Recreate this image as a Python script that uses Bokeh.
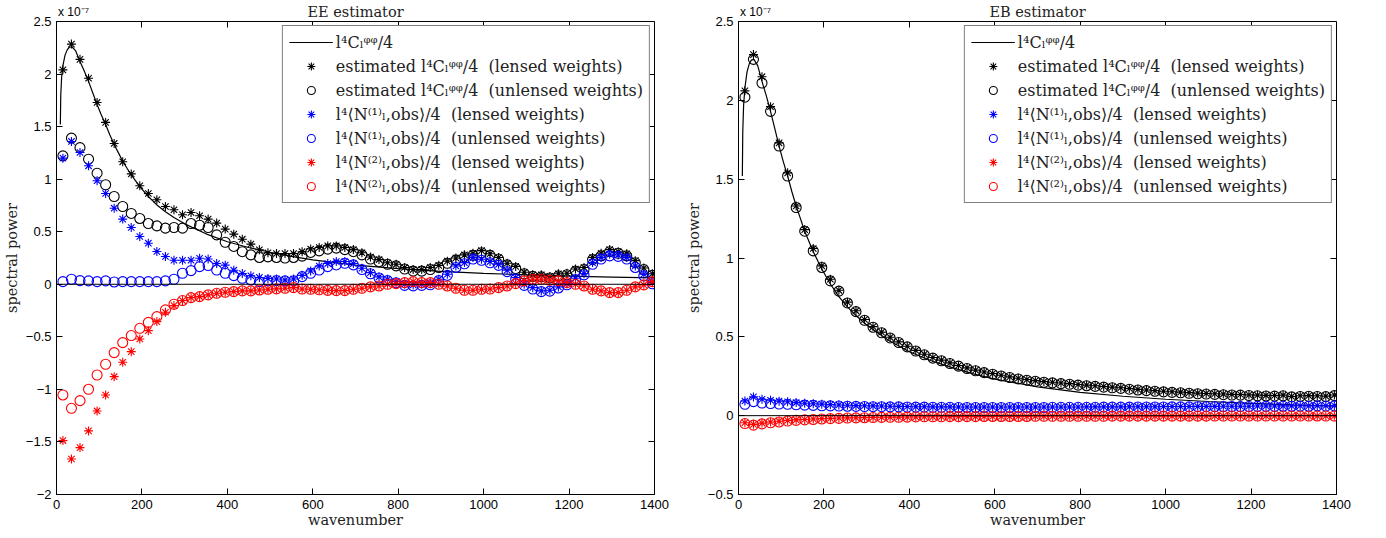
from bokeh.plotting import figure
from bokeh.models import (Range1d, LinearAxis, FixedTicker, Span, Legend, LegendItem,
                          CustomJSTickFormatter)
from bokeh.layouts import row
from bokeh.embed import file_html
from bokeh.resources import INLINE

# ---------------- data (values in units of 1e-7) ----------------
ell = list(range(15, 1400, 20))          # bin centres (70 bins)

theory_l = [9, 10, 12, 15, 20, 25, 30, 36, 45, 55, 65, 75, 85, 95, 105, 115, 125, 135,
            145, 155, 175, 195, 215, 235, 255, 275, 300, 350, 400, 450, 500, 550, 600,
            700, 800, 900, 1000, 1100, 1200, 1300, 1400]
theory_v = [1.52, 1.80, 1.97, 2.08, 2.18, 2.23, 2.255, 2.26, 2.22, 2.12, 2.03, 1.93, 1.82,
            1.71, 1.61, 1.52, 1.42, 1.33, 1.25, 1.17, 1.04, 0.93, 0.835, 0.755, 0.69,
            0.635, 0.575, 0.48, 0.405, 0.35, 0.305, 0.265, 0.232, 0.183, 0.148, 0.123,
            0.104, 0.09, 0.078, 0.068, 0.06]

# EE estimator
ee_est_lensed = [2.04, 2.285, 2.14, 1.96, 1.73, 1.54, 1.34, 1.165, 1.05, 0.937,
                 0.864, 0.804, 0.74, 0.709, 0.661, 0.683, 0.652, 0.62, 0.582, 0.525,
                 0.477, 0.429, 0.382, 0.328, 0.30, 0.293, 0.293, 0.293, 0.31, 0.335,
                 0.35, 0.365, 0.365, 0.35, 0.33, 0.30, 0.26, 0.235, 0.205, 0.19,
                 0.16, 0.14, 0.14, 0.16, 0.18, 0.22, 0.25, 0.28, 0.295, 0.32,
                 0.29, 0.255, 0.2, 0.17, 0.115, 0.09, 0.09, 0.075, 0.10, 0.105,
                 0.145, 0.16, 0.255, 0.295, 0.33, 0.31, 0.29, 0.225, 0.155, 0.10]
ee_est_unlensed = [1.222, 1.39, 1.30, 1.19, 1.057, 0.947, 0.835, 0.74, 0.674, 0.626,
                   0.578, 0.556, 0.534, 0.54, 0.534, 0.578, 0.562, 0.54, 0.47, 0.40,
                   0.36, 0.31, 0.28, 0.255, 0.261, 0.255, 0.25, 0.255, 0.268, 0.303,
                   0.318, 0.334, 0.344, 0.33, 0.31, 0.28, 0.24, 0.215, 0.19, 0.175,
                   0.145, 0.125, 0.125, 0.14, 0.16, 0.2, 0.23, 0.26, 0.275, 0.3,
                   0.275, 0.24, 0.185, 0.15, 0.1, 0.075, 0.07, 0.06, 0.08, 0.09,
                   0.125, 0.14, 0.235, 0.27, 0.31, 0.295, 0.27, 0.205, 0.14, 0.085]
ee_n1_lensed = [1.20, 1.359, 1.254, 1.127, 0.985, 0.864, 0.724, 0.62, 0.54, 0.455,
                0.391, 0.312, 0.264, 0.229, 0.229, 0.229, 0.248, 0.24, 0.198, 0.182,
                0.134, 0.103, 0.081, 0.065, 0.055, 0.05, 0.04, 0.05, 0.085, 0.127,
                0.174, 0.197, 0.216, 0.216, 0.197, 0.152, 0.111, 0.07, 0.048, 0.025,
                0.0, -0.006, 0.0, 0.006, 0.048, 0.095, 0.174, 0.206, 0.254, 0.238,
                0.216, 0.19, 0.133, 0.063, 0.0, -0.032, -0.063, -0.057, -0.025, 0.006,
                0.057, 0.101, 0.206, 0.254, 0.285, 0.279, 0.254, 0.174, 0.095, 0.016]
ee_n1_unlensed = [0.025, 0.048, 0.035, 0.032, 0.025, 0.032, 0.022, 0.025, 0.025, 0.025,
                  0.025, 0.025, 0.032, 0.048, 0.105, 0.13, 0.168, 0.178, 0.136, 0.105,
                  0.082, 0.057, 0.041, 0.025, 0.032, 0.035, 0.032, 0.032, 0.073, 0.105,
                  0.136, 0.168, 0.184, 0.2, 0.185, 0.14, 0.1, 0.06, 0.035, 0.015,
                  -0.01, -0.015, -0.01, -0.005, 0.035, 0.085, 0.16, 0.195, 0.24, 0.228,
                  0.205, 0.18, 0.12, 0.05, -0.01, -0.045, -0.07, -0.065, -0.035, -0.005,
                  0.045, 0.09, 0.19, 0.24, 0.27, 0.265, 0.24, 0.16, 0.08, 0.005]
ee_n2_lensed_head = [-1.487, -1.662, -1.554, -1.395, -1.205, -1.053, -0.879, -0.742,
                     -0.641, -0.52, -0.441, -0.355, -0.266, -0.203, -0.155]
ee_n2_unlensed_head = [-1.053, -1.18, -1.107, -0.999, -0.863, -0.761, -0.65, -0.555,
                       -0.488, -0.419, -0.362, -0.308, -0.244, -0.19, -0.155]
ee_n2_tail = [-0.127, -0.117, -0.101, -0.086, -0.076,
              -0.07, -0.063, -0.063, -0.054, -0.048, -0.044, -0.038, -0.032, -0.045, -0.048,
              -0.052, -0.058, -0.06, -0.06, -0.048, -0.038, -0.025, -0.016, 0.0, 0.006,
              0.016, 0.025, 0.016, 0.016, 0.0, -0.016, -0.038, -0.057, -0.057, -0.048,
              -0.045, -0.032, -0.016, 0.006, 0.032, 0.048, 0.048, 0.038, 0.032, 0.016,
              0.0, -0.016, -0.048, -0.063, -0.079, -0.079, -0.057, -0.025, -0.006, 0.025]
ee_n2_lensed = ee_n2_lensed_head + ee_n2_tail
ee_n2_unlensed = ee_n2_unlensed_head + ee_n2_tail

# EB estimator
eb_est_lensed = [2.06, 2.29, 2.15, 1.96, 1.73, 1.54, 1.33, 1.18, 1.06, 0.95,
                 0.865, 0.795, 0.72, 0.665, 0.61, 0.565, 0.53, 0.497, 0.468, 0.44,
                 0.414, 0.39, 0.369, 0.352, 0.335, 0.318, 0.303, 0.289, 0.277, 0.267,
                 0.256, 0.246, 0.237, 0.229, 0.222, 0.216, 0.212, 0.207, 0.203, 0.198,
                 0.194, 0.19, 0.185, 0.181, 0.177, 0.172, 0.167, 0.163, 0.159, 0.155,
                 0.152, 0.149, 0.146, 0.143, 0.141, 0.139, 0.137, 0.135, 0.134, 0.132,
                 0.13, 0.129, 0.128, 0.13, 0.122, 0.126, 0.127, 0.126, 0.124, 0.131]
eb_est_unlensed = [2.02, 2.26, 2.11, 1.93, 1.71, 1.52, 1.32, 1.17, 1.045, 0.94,
                   0.855, 0.79, 0.715, 0.66, 0.605, 0.561, 0.526, 0.493, 0.464, 0.436,
                   0.41, 0.386, 0.365, 0.348, 0.331, 0.314, 0.299, 0.285, 0.273, 0.263,
                   0.252, 0.242, 0.233, 0.225, 0.218, 0.212, 0.208, 0.203, 0.199, 0.194,
                   0.19, 0.186, 0.181, 0.177, 0.173, 0.168, 0.163, 0.159, 0.155, 0.151,
                   0.148, 0.145, 0.142, 0.139, 0.137, 0.135, 0.133, 0.131, 0.13, 0.128,
                   0.126, 0.125, 0.124, 0.126, 0.119, 0.122, 0.123, 0.122, 0.121, 0.127]
eb_n1_lensed = [0.093, 0.119, 0.104, 0.098, 0.092, 0.088, 0.083, 0.079, 0.076, 0.073,
                0.07, 0.068, 0.066, 0.064, 0.063, 0.062, 0.061, 0.06, 0.059, 0.058,
                0.057, 0.057, 0.056, 0.056, 0.056, 0.055, 0.055, 0.055, 0.055, 0.055,
                0.055, 0.055, 0.055, 0.055, 0.055, 0.055, 0.055, 0.055, 0.055, 0.055,
                0.056, 0.056, 0.056, 0.056, 0.056, 0.057, 0.057, 0.057, 0.057, 0.058,
                0.058, 0.058, 0.058, 0.059, 0.059, 0.059, 0.060, 0.060, 0.060, 0.060,
                0.061, 0.061, 0.061, 0.062, 0.062, 0.063, 0.062, 0.064, 0.063, 0.064]
eb_n1_unlensed = [0.072, 0.089, 0.08, 0.077, 0.074, 0.072, 0.069, 0.067, 0.065, 0.063,
                  0.062, 0.061, 0.06, 0.059, 0.058, 0.057, 0.057, 0.056, 0.056, 0.055,
                  0.054, 0.054, 0.053, 0.053, 0.053, 0.052, 0.052, 0.052, 0.052, 0.052,
                  0.052, 0.052, 0.052, 0.052, 0.052, 0.052, 0.053, 0.053, 0.053, 0.053,
                  0.053, 0.053, 0.054, 0.054, 0.054, 0.054, 0.055, 0.055, 0.055, 0.055,
                  0.056, 0.056, 0.056, 0.057, 0.057, 0.057, 0.058, 0.058, 0.058, 0.058,
                  0.059, 0.059, 0.059, 0.060, 0.060, 0.061, 0.060, 0.062, 0.061, 0.062]
eb_n2_lensed_head = [-0.045, -0.055, -0.047, -0.04, -0.035, -0.03, -0.027, -0.024, -0.021,
                     -0.019, -0.017, -0.015, -0.014, -0.013, -0.012, -0.011, -0.01, -0.009,
                     -0.009, -0.008]
eb_n2_unlensed_head = [-0.05, -0.06, -0.052, -0.045, -0.04, -0.034, -0.03, -0.027, -0.024,
                       -0.021, -0.019, -0.017, -0.015, -0.014, -0.013, -0.012, -0.011, -0.01,
                       -0.01, -0.009]
eb_n2_tail = [-0.008, -0.007, -0.007, -0.007, -0.006, -0.006, -0.006, -0.006, -0.005, -0.005,
              -0.005, -0.005, -0.005, -0.005, -0.004, -0.004, -0.004, -0.004, -0.004, -0.004,
              -0.004, -0.004, -0.004, -0.003, -0.003, -0.003, -0.003, -0.003, -0.003, -0.003,
              -0.003, -0.003, -0.003, -0.003, -0.003, -0.002, -0.002, -0.002, -0.002, -0.002,
              -0.002, -0.002, -0.002, -0.002, -0.002, -0.002, -0.002, -0.002, -0.002, -0.002]
eb_n2_lensed = eb_n2_lensed_head + eb_n2_tail
eb_n2_unlensed = eb_n2_unlensed_head + eb_n2_tail

x_ticks = [0, 200, 400, 600, 800, 1000, 1200, 1400]
ee_y_ticks = [-2, -1.5, -1, -0.5, 0, 0.5, 1, 1.5, 2, 2.5]
eb_y_ticks = [-0.5, 0, 0.5, 1, 1.5, 2, 2.5]
exponent_text = "x 10\u207b\u2077"

legend_labels = [
    "l\u2074C\u2097\u1d60\u1d60/4",
    "estimated l\u2074C\u2097\u1d60\u1d60/4  (lensed weights)",
    "estimated l\u2074C\u2097\u1d60\u1d60/4  (unlensed weights)",
    "l\u2074\u27e8N\u207d\u00b9\u207e\u2097,obs\u27e9/4  (lensed weights)",
    "l\u2074\u27e8N\u207d\u00b9\u207e\u2097,obs\u27e9/4  (unlensed weights)",
    "l\u2074\u27e8N\u207d\u00b2\u207e\u2097,obs\u27e9/4  (lensed weights)",
    "l\u2074\u27e8N\u207d\u00b2\u207e\u2097,obs\u27e9/4  (unlensed weights)",
]

SERIF = "DejaVu Serif"
SANS = "Liberation Sans"
FRAME_W, FRAME_H = 598, 473
X0, X1 = 0, 1400


def blank():
    return CustomJSTickFormatter(code="return '';")


def style_axis(ax, ticks):
    ax.ticker = FixedTicker(ticks=ticks)
    ax.major_tick_in = 6
    ax.major_tick_out = 0
    ax.minor_tick_line_color = None
    ax.axis_line_color = "black"
    ax.major_tick_line_color = "black"
    ax.major_label_text_font = SANS
    ax.major_label_text_font_size = "13px"
    ax.major_label_text_color = "black"
    ax.axis_label_text_font = SERIF
    ax.axis_label_text_font_size = "14.5px"
    ax.axis_label_text_font_style = "normal"
    ax.axis_label_text_color = "#222222"


def panel(title, ymin, ymax, yticks, series, bl, br):
    p = figure(frame_width=FRAME_W, frame_height=FRAME_H,
               x_range=Range1d(X0, X1), y_range=Range1d(ymin, ymax),
               title=None, output_backend="svg", toolbar_location=None,
               min_border_left=bl, min_border_right=br, min_border_top=0, min_border_bottom=0)
    p.grid.visible = False
    p.outline_line_color = "black"
    p.outline_line_width = 1

    style_axis(p.xaxis[0], x_ticks)
    style_axis(p.yaxis[0], yticks)
    p.xaxis[0].axis_label = "wavenumber"
    p.xaxis[0].axis_label_standoff = 0
    p.xaxis[0].major_label_standoff = 5
    p.xaxis[0].major_label_text_line_height = 1.0
    p.xaxis[0].axis_label_text_line_height = 1.0
    p.yaxis[0].axis_label = "spectral power"
    p.yaxis[0].axis_label_standoff = 3
    p.yaxis[0].major_label_standoff = 5
    p.yaxis[0].formatter = CustomJSTickFormatter(
        code="return tick < 0 ? '\u2212' + (-tick).toString() : tick.toString();")

    # tick marks on the top and right edges (drawn on the frame, no extra space)
    top = LinearAxis(fixed_location=ymax, formatter=blank())
    style_axis(top, x_ticks)
    top.major_label_text_font_size = "0px"
    top.major_label_standoff = 0
    p.add_layout(top, "above")
    right = LinearAxis(fixed_location=X1, formatter=blank())
    style_axis(right, yticks)
    right.major_label_text_font_size = "0px"
    right.major_label_standoff = 0
    p.add_layout(right, "right")

    # header: exponent at the top-left corner and the centred title on the same line
    exp_x = X0 + 0.0285 * (X1 - X0)
    head = LinearAxis(formatter=CustomJSTickFormatter(code="return '%s';" % exponent_text))
    style_axis(head, [exp_x])
    head.axis_line_color = None
    head.major_tick_line_color = None
    head.major_tick_in = 0
    head.major_label_standoff = 3
    head.major_label_text_font_size = "12px"
    head.axis_label = title
    head.axis_label_standoff = -18
    p.add_layout(head, "above")

    p.add_layout(Span(location=0, dimension="width", line_color="black", line_width=1))

    r_th = p.line(theory_l, theory_v, line_color="black", line_width=1.2)
    rends = [r_th]
    for vals, color, marker in series:
        if marker == "asterisk":
            r = p.scatter(ell, vals, marker="asterisk", size=9, line_color=color, line_width=1.1)
        else:
            r = p.scatter(ell, vals, marker="circle", size=10, fill_color=None,
                          line_color=color, line_width=1.1)
        rends.append(r)

    leg = Legend(items=[LegendItem(label=lab, renderers=[r]) for lab, r in zip(legend_labels, rends)],
                 location="top_right", margin=4, padding=6, spacing=4,
                 glyph_width=44, glyph_height=20, label_height=20, label_standoff=3,
                 label_text_font=SERIF, label_text_font_size="16px", label_text_color="#222222",
                 border_line_color="black", border_line_width=1.2,
                 background_fill_color="white", background_fill_alpha=1.0)
    p.add_layout(leg)
    return p


ee_series = [(ee_est_lensed, "black", "asterisk"), (ee_est_unlensed, "black", "circle"),
             (ee_n1_lensed, "blue", "asterisk"), (ee_n1_unlensed, "blue", "circle"),
             (ee_n2_lensed, "red", "asterisk"), (ee_n2_unlensed, "red", "circle")]
eb_series = [(eb_est_lensed, "black", "asterisk"), (eb_est_unlensed, "black", "circle"),
             (eb_n1_lensed, "blue", "asterisk"), (eb_n1_unlensed, "blue", "circle"),
             (eb_n2_lensed, "red", "asterisk"), (eb_n2_unlensed, "red", "circle")]

p1 = panel("EE estimator", -2, 2.5, ee_y_ticks, ee_series, 49, 28)
p2 = panel("EB estimator", -0.5, 2.5, eb_y_ticks, eb_series, 49, 28)

layout = row(p1, p2)
open("out.html", "w").write(file_html(layout, INLINE))
